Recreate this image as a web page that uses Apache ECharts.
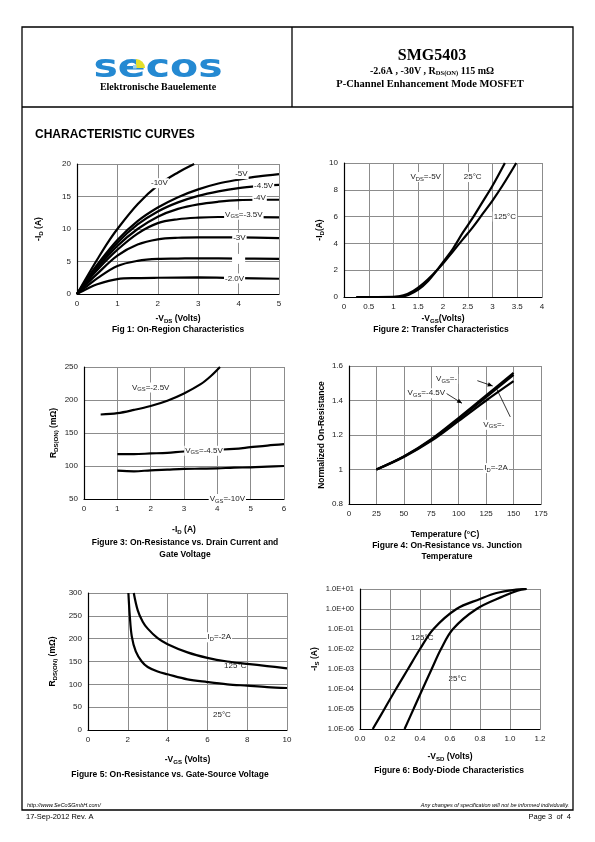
<!DOCTYPE html>
<html><head><meta charset="utf-8">
<script src="https://cdn.jsdelivr.net/npm/echarts@6/dist/echarts.min.js"></script>
<style>html,body{margin:0;padding:0;background:#fff}#c{width:595px;height:842px}</style>
</head><body><div id="c"></div>
<script>
// ---------------- DATA ----------------
// Fig 1: -VDS (V) vs -ID (A) for several -VGS
const fig1_vgs10 = [[0,0],[0.25,2.7],[0.5,5.3],[0.75,7.8],[1,10],[1.5,13.8],[2,16.7],[2.5,18.7],[2.9,20]];
const fig1_vgs5  = [[0,0],[0.25,2.3],[0.5,4.5],[1,8.3],[1.5,11.2],[2,13.3],[2.5,14.9],[3,16.1],[3.5,17.0],[4,17.6],[4.5,18.1],[5,18.45]];
const fig1_vgs45 = [[0,0],[0.25,2.2],[0.5,4.3],[1,7.9],[1.5,10.7],[2,12.7],[2.5,14.1],[3,15.1],[3.5,15.8],[4,16.3],[4.5,16.6],[5,16.8]];
const fig1_vgs4  = [[0,0],[0.25,2.1],[0.5,4.0],[1,7.4],[1.5,10.0],[2,11.9],[2.5,13.1],[3,13.8],[3.5,14.2],[4,14.45],[4.5,14.5],[5,14.5]];
const fig1_vgs35 = [[0,0],[0.25,1.9],[0.5,3.7],[1,6.8],[1.5,9.3],[2,10.9],[2.5,11.5],[3,11.75],[3.5,11.85],[4,11.85],[5,11.8]];
const fig1_vgs3  = [[0,0],[0.25,1.6],[0.5,3.1],[1,5.9],[1.5,7.6],[2,8.4],[2.5,8.65],[3,8.7],[4,8.7],[5,8.6]];
const fig1_vgs25 = [[0,0],[0.25,1.2],[0.5,2.4],[1,4.3],[1.5,5.1],[2,5.4],[2.5,5.45],[3,5.5],[4,5.45],[5,5.4]];
const fig1_vgs2  = [[0,0],[0.25,0.8],[0.5,1.5],[1,2.3],[1.5,2.45],[2,2.5],[3,2.55],[4,2.45],[5,2.35]];
// Fig 2: -VGS (V) vs -ID (A)
const fig2_t25  = [[0.25,0],[1,0],[1.2,0.05],[1.3,0.15],[1.5,0.55],[1.7,1.2],[1.9,2.1],[2,2.6],[2.2,3.6],[2.4,4.8],[2.6,5.9],[2.8,7.1],[3,8.3],[3.25,10]];
const fig2_t125 = [[0.25,0],[1,0.02],[1.2,0.12],[1.4,0.45],[1.6,1.0],[1.8,1.7],[2,2.5],[2.2,3.4],[2.4,4.3],[2.6,5.2],[2.8,6.2],[3,7.2],[3.2,8.3],[3.48,10]];
// Fig 3: -ID (A) vs RDS(ON) (mOhm)
const fig3_vgs25 = [[0.5,178],[1,180],[1.5,185],[2,191],[2.5,199],[3,210],[3.5,224],[3.8,236],[4.08,250]];
const fig3_vgs45 = [[1,118],[1.5,118],[2,119],[2.5,120],[3,122],[3.5,123],[4,124.5],[4.5,126],[5,128.5],[5.5,131],[6,133]];
const fig3_vgs10 = [[1,93],[1.5,92],[2,93.5],[2.5,94.5],[3,95.5],[3.5,96],[4,96.5],[4.5,97.5],[5,98],[5.5,99],[6,100]];
// Fig 4: Temperature (C) vs normalized on-resistance
const fig4_curveA = [[25,1],[50,1.076],[75,1.176],[100,1.3],[125,1.43],[150,1.56]];
const fig4_curveB = [[25,1],[50,1.075],[75,1.172],[100,1.292],[125,1.42],[150,1.548]];
const fig4_curveC = [[25,1],[50,1.073],[75,1.166],[100,1.282],[125,1.4],[150,1.512]];
// Fig 5: -VGS (V) vs RDS(ON) (mOhm)
const fig5_t25  = [[2.03,300],[2.1,250],[2.2,205],[2.4,172],[2.7,150],[3,138],[3.5,128],[4,122],[5,111],[6,105],[7,100],[8,97],[9,94],[10,92]];
const fig5_t125 = [[2.3,300],[2.5,262],[2.75,237],[3,222],[3.5,201],[4,188],[5,170],[6,158],[7,150],[8,145],[9,140],[10,135]];
// Fig 6: -VSD (V) vs -IS (A), log scale
const fig6_t125 = [[0.085,1e-6],[0.163,1e-5],[0.24,1e-4],[0.32,1e-3],[0.40,1e-2],[0.49,1e-1],[0.643,1],[0.80,3.16],[0.91,6.3],[1.04,9.3],[1.11,10]];
const fig6_t25  = [[0.297,1e-6],[0.357,1e-5],[0.417,1e-4],[0.478,1e-3],[0.54,1e-2],[0.62,1e-1],[0.777,1],[0.955,4.3],[1.05,8.2],[1.11,10]];
const fig6_yTickLabels = ['1.0E-06','1.0E-05','1.0E-04','1.0E-03','1.0E-02','1.0E-01','1.0E+00','1.0E+01'];

// ---------------- STYLE ----------------
const SANS = '"Liberation Sans", Arial, sans-serif';
const SERIF = '"Liberation Serif", "Times New Roman", serif';
const AX = '#000', GRID = '#8c8c8c', LBL = '#222';

function mkRich(size, bold, color) {
  const w = bold ? 'bold' : 'normal';
  return {
    n: {fontFamily: SANS, fontSize: size, fontWeight: w, color: color, fill: color, lineHeight: Math.round(size * 1.3)},
    s: {fontFamily: SANS, fontSize: Math.round(size * 0.72 * 10) / 10, fontWeight: w, color: color, fill: color,
        lineHeight: 6, verticalAlign: 'bottom'}
  };
}
const RICH_T = mkRich(8.5, true, '#000');
const RICH_L = mkRich(8, false, '#222');

const chart = echarts.init(document.getElementById('c'), null, {renderer: 'canvas', width: 595, height: 842});

const grids = [
  {left: 77, top: 164, width: 202, height: 130},
  {left: 344, top: 163, width: 198, height: 134},
  {left: 84, top: 367, width: 200, height: 132},
  {left: 349, top: 366, width: 192, height: 138},
  {left: 88, top: 593, width: 199, height: 137},
  {left: 360, top: 589, width: 180, height: 140}
].map(g => Object.assign({containLabel: false, outerBoundsMode: 'none', show: false}, g));

function ax(type, gi, min, max, interval, name, nameGap, extra) {
  const o = {
    type: type, gridIndex: gi, min: min, max: max,
    name: name, nameLocation: 'middle', nameGap: nameGap,
    nameTextStyle: {rich: RICH_T},
    axisLine: {show: true, onZero: false, lineStyle: {color: AX, width: 1.2}},
    axisTick: {show: false},
    axisLabel: {fontFamily: SANS, fontSize: 8, color: LBL, margin: 6, showMinLabel: true, showMaxLabel: true},
    splitLine: {show: true, lineStyle: {color: GRID, width: 1}},
    z: 1
  };
  if (interval != null) o.interval = interval;
  return Object.assign(o, extra || {});
}

const xAxes = [
  ax('value', 0, 0, 5, 1, '{n|-V}{s|DS}{n| (Volts)}', 19),
  ax('value', 1, 0, 4, 0.5, '{n|-V}{s|GS}{n|(Volts)}', 16),
  ax('value', 2, 0, 6, 1, '{n|-I}{s|D}{n| (A)}', 25),
  ax('value', 3, 0, 175, 25, '{n|Temperature (°C)}', 25),
  ax('value', 4, 0, 10, 2, '{n|-V}{s|GS}{n| (Volts)}', 24),
  ax('value', 5, 0, 1.2, 0.2, '{n|-V}{s|SD}{n| (Volts)}', 22,
     {axisLabel: {fontFamily: SANS, fontSize: 8, color: LBL, margin: 6, formatter: v => v.toFixed(1)}})
];
const yAxes = [
  ax('value', 0, 0, 20, 5, '{n|-I}{s|D}{n| (A)}', 33),
  ax('value', 1, 0, 10, 2, '{n|-I}{s|D}{n|(A)}', 16),
  ax('value', 2, 50, 250, 50, '{n|R}{s|DS(ON)}{n| (mΩ)}', 25),
  ax('value', 3, 0.8, 1.6, 0.2, '{n|Normalized On-Resistance}', 22),
  ax('value', 4, 0, 300, 50, '{n|R}{s|DS(ON)}{n| (mΩ)}', 30),
  ax('log', 5, 1e-6, 10, null, '{n|-I}{s|S}{n| (A)}', 40,
     {logBase: 10, axisLabel: {fontFamily: SANS, fontSize: 7.5, color: LBL, margin: 6,
       formatter: v => fig6_yTickLabels[Math.round(Math.log10(v)) + 6]}})
];

function line(gi, data) {
  return {type: 'line', xAxisIndex: gi, yAxisIndex: gi, data: data, smooth: 0.35,
          showSymbol: false, symbol: 'none', lineStyle: {color: '#000', width: 2.2}, z: 3, silent: true, animation: false};
}

const series = [
  line(0, fig1_vgs10), line(0, fig1_vgs5), line(0, fig1_vgs45), line(0, fig1_vgs4),
  line(0, fig1_vgs35), line(0, fig1_vgs3), line(0, fig1_vgs25), line(0, fig1_vgs2),
  line(1, fig2_t25), line(1, fig2_t125),
  line(2, fig3_vgs25), line(2, fig3_vgs45), line(2, fig3_vgs10),
  line(3, fig4_curveA), line(3, fig4_curveB), line(3, fig4_curveC),
  line(4, fig5_t25), line(4, fig5_t125),
  line(5, fig6_t125), line(5, fig6_t25)
];

chart.setOption({
  backgroundColor: '#fff',
  animation: false,
  grid: grids, xAxis: xAxes, yAxis: yAxes, series: series
});

// ---------------- ANNOTATIONS ----------------
const notes = [
  [0, [2.04, 17.05], '{n|-10V}', true],
  [0, [4.07, 18.45], '{n|-5V}', true],
  [0, [4.62, 16.65], '{n|-4.5V}', true],
  [0, [4.52, 14.75], '{n|-4V}', true],
  [0, [4.13, 12.2], '{n|V}{s|GS}{n|=-3.5V}', true],
  [0, [4.02, 8.65], '{n|-3V}', true],
  [0, [4.0, 5.4], '{n|     }', true],
  [0, [3.9, 2.4], '{n|-2.0V}', true],
  [1, [1.65, 8.95], '{n|V}{s|DS}{n|=-5V}', true],
  [1, [2.6, 8.95], '{n|25°C}', true],
  [1, [3.25, 6.0], '{n|125°C}', true],
  [2, [2.0, 219], '{n|V}{s|GS}{n|=-2.5V}', true],
  [2, [3.6, 123], '{n|V}{s|GS}{n|=-4.5V}', true],
  [2, [4.3, 50], '{n|V}{s|GS}{n|=-10V}', true],
  [3, [89, 1.525], '{n|V}{s|GS}{n|=-}', true],
  [3, [70.5, 1.442], '{n|V}{s|GS}{n|=-4.5V}', true],
  [3, [132, 1.259], '{n|V}{s|GS}{n|=-}', true],
  [3, [134, 1.008], '{n|I}{s|D}{n|=-2A}', true],
  [4, [6.6, 203], '{n|I}{s|D}{n|=-2A}', true],
  [4, [7.4, 140], '{n|125°C}', false],
  [4, [6.73, 33], '{n|25°C}', false],
  [5, [0.415, 0.035], '{n|125°C}', false],
  [5, [0.65, 3.3e-4], '{n|25°C}', false]
];
const arrows = [
  [3, [117, 1.515], [131, 1.484], true],
  [3, [89, 1.44], [103, 1.384], true],
  [3, [147, 1.305], [134, 1.475], false]
];

const P = (gi, pt) => chart.convertToPixel({gridIndex: gi}, pt);
const g = [];
function txt(x, y, text, font, align, extra, elExtra) {
  g.push(Object.assign({type: 'text', z: 20, silent: true,
    style: Object.assign({text: text, x: x, y: y, font: font, fill: '#000', align: align || 'left', verticalAlign: 'middle'}, extra || {})}, elExtra || {}));
}
function hline(x1, y1, x2, y2, w) {
  g.push({type: 'line', z: 20, silent: true, shape: {x1: x1, y1: y1, x2: x2, y2: y2}, style: {stroke: '#000', lineWidth: w || 1}});
}

notes.forEach(([gi, pt, t, bg]) => {
  const p = P(gi, pt);
  const st = {text: t, x: p[0], y: p[1], rich: RICH_L, align: 'center', verticalAlign: 'middle', fill: '#222'};
  if (bg) { st.backgroundColor = '#fff'; st.padding = [0, 1]; }
  g.push({type: 'text', z: bg ? 10 : 0, zlevel: 0, silent: true, style: st});
});
arrows.forEach(([gi, a, b, head]) => {
  const p1 = P(gi, a), p2 = P(gi, b);
  g.push({type: 'line', z: 11, silent: true, shape: {x1: p1[0], y1: p1[1], x2: p2[0], y2: p2[1]}, style: {stroke: '#000', lineWidth: 0.8}});
  if (head) {
    const ang = Math.atan2(p2[1] - p1[1], p2[0] - p1[0]), L = 5, W = 2.2;
    const bx = p2[0] - L * Math.cos(ang), by = p2[1] - L * Math.sin(ang);
    g.push({type: 'polygon', z: 11, silent: true, shape: {points: [[p2[0], p2[1]],
      [bx + W * Math.sin(ang), by - W * Math.cos(ang)], [bx - W * Math.sin(ang), by + W * Math.cos(ang)]]}, style: {fill: '#000'}});
  }
});

// Page frame & header
g.push({type: 'rect', z: 20, silent: true, shape: {x: 22, y: 27, width: 551, height: 783}, style: {fill: 'none', stroke: '#000', lineWidth: 1.3}});
hline(22, 107, 573, 107, 1.3);
hline(292, 27, 292, 107, 1.3);

// Logo
txt(158, 69, 'secos', 'bold 41px "DejaVu Sans", sans-serif', 'center', {fill: '#2489d2'}, {scaleY: 0.8, originX: 158, originY: 67});
g.push({type: 'sector', z: 21, silent: true, shape: {cx: 136, cy: 68, r: 9, r0: 0, startAngle: -Math.PI / 2, endAngle: 0, clockwise: true}, style: {fill: '#e4e02a'}});
g.push({type: 'rect', z: 22, silent: true, shape: {x: 133, y: 65, width: 3.5, height: 3.5}, style: {fill: '#9fd0ee'}});
txt(158, 87, 'Elektronische Bauelemente', 'bold 10px ' + SERIF, 'center');

txt(432, 56, 'SMG5403', 'bold 16px ' + SERIF, 'center');
g.push({type: 'text', z: 20, silent: true, style: {
  text: '{n|-2.6A , -30V , R}{s|DS(ON)}{n| 115 mΩ}', x: 432, y: 71, align: 'center', verticalAlign: 'middle',
  rich: {n: {fontFamily: SERIF, fontSize: 10, fontWeight: 'bold', fill: '#000', lineHeight: 12},
         s: {fontFamily: SERIF, fontSize: 6.5, fontWeight: 'bold', fill: '#000', lineHeight: 7, verticalAlign: 'bottom'}}}});
txt(430, 84, 'P-Channel Enhancement Mode MOSFET', 'bold 10.5px ' + SERIF, 'center');

txt(35, 135, 'CHARACTERISTIC CURVES', 'bold 12px ' + SANS, 'left');

// Captions
const CAP = 'bold 8.5px ' + SANS;
txt(178, 330, 'Fig 1: On-Region Characteristics', CAP, 'center');
txt(441, 330, 'Figure 2: Transfer Characteristics', CAP, 'center');
txt(185, 543, 'Figure 3: On-Resistance vs. Drain Current and', CAP, 'center');
txt(185, 555, 'Gate Voltage', CAP, 'center');
txt(447, 546, 'Figure 4: On-Resistance vs. Junction', CAP, 'center');
txt(447, 557, 'Temperature', CAP, 'center');
txt(170, 775, 'Figure 5: On-Resistance vs. Gate-Source Voltage', CAP, 'center');
txt(449, 771, 'Figure 6: Body-Diode Characteristics', CAP, 'center');

// Footer
txt(27, 805, 'http://www.SeCoSGmbH.com/', 'italic 5.5px ' + SANS, 'left');
txt(569, 805, 'Any changes of specification will not be informed individually.', 'italic 5.5px ' + SANS, 'right');
txt(26, 817, '17-Sep-2012 Rev. A', '7.5px ' + SANS, 'left');
txt(571, 817, 'Page 3  of  4', '7.5px ' + SANS, 'right');

chart.setOption({graphic: {elements: g}});
</script></body></html>
